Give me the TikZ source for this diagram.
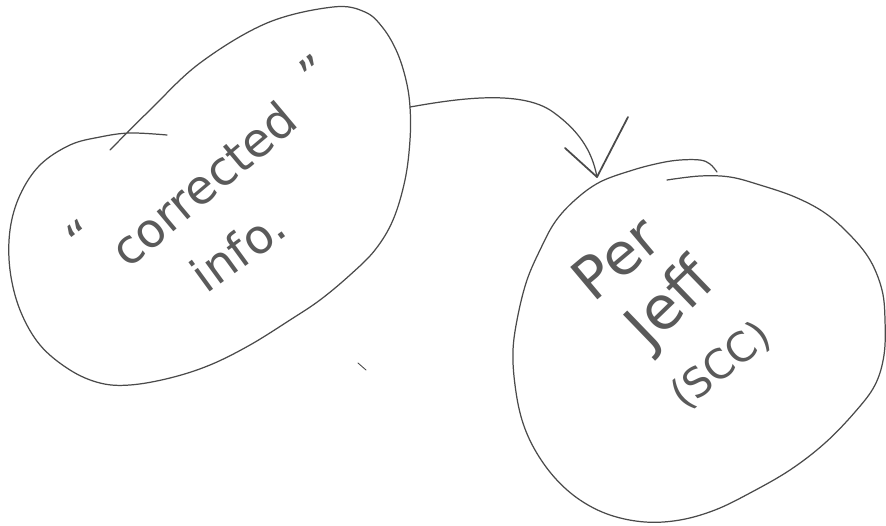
\documentclass[tikz,border=0pt]{standalone}
\usepackage{fontspec}
\setmainfont{DejaVu Sans}
\definecolor{pencilc}{HTML}{4A4A4A}
\definecolor{inkc}{HTML}{5A5A5A}
\begin{document}
\begin{tikzpicture}[x=0.02cm,y=-0.02cm,
  pencil/.style={draw=pencilc, line width=0.7pt, line cap=round, line join=round},
  hand/.style={text=inkc, inner sep=0pt, transform shape}]
\useasboundingbox[fill=white] (0,0) rectangle (886,525);

% left blob ("corrected info.")
\draw[pencil] plot[smooth, tension=0.6] coordinates {
  (110,150) (150,110) (200,63) (267,23) (333,7) (365,12) (383,28) (397,52) (406,80)
  (410,107) (410,140) (405,180) (393,220) (375,250) (350,275) (320,300) (290,320)
  (250,345) (210,365) (170,378) (130,385) (100,383) (70,370) (40,345) (20,310)
  (10,270) (10,230) (20,195) (40,165) (70,145) (100,137) (130,133) (167,135)};

% right blob ("Per Jeff (SCC)")
\draw[pencil] plot[smooth, tension=0.6] coordinates {
  (717,172) (710,164) (700,160) (680,160) (660,163) (633,170) (600,182) (575,200)
  (555,222) (540,250) (527,280) (518,315) (513,350) (515,385) (522,420) (535,450)
  (555,478) (580,500) (610,515) (645,522) (680,520) (715,510) (750,493) (790,470)
  (825,443) (855,412) (875,385) (884,355) (885,320) (882,290) (870,260) (850,235)
  (825,213) (795,197) (760,185) (730,177) (700,176) (667,180)};

% stray pencil mark
\draw[pencil, line width=0.5pt] (358,363) -- (366,370);

% connector
\coordinate (a1) at (410,107);
\coordinate (tip) at (597,177);
\coordinate (hl) at (565,148);
\coordinate (hr) at (628,117);
\draw[pencil] (a1) .. controls (450,100) and (520,88) .. (553,112)
  .. controls (578,130) and (592,150) .. (tip);
\draw[pencil, line width=1pt] (hl) -- (tip) -- (hr);

% texts
\node[hand, rotate=38, font=\fontsize{26}{28}\selectfont] (oq) at (82,237) {“};
\node[hand, rotate=40, font=\fontsize{27}{29}\selectfont] (corr) at (203,184) {corrected};
\node[hand, rotate=38, font=\fontsize{26}{28}\selectfont] (cq) at (315,72) {”};
\node[hand, rotate=36, font=\fontsize{27}{29}\selectfont] (info) at (238,250) {info.};
\node[hand, rotate=40, font=\fontsize{33}{35}\selectfont] (per) at (616,258) {Per};
\node[hand, rotate=44, font=\fontsize{34}{36}\selectfont] (jeff) at (672,305) {Jeff};
\node[hand, rotate=38, font=\fontsize{23}{25}\selectfont] (scc) at (721,366) {(SCC)};
\end{tikzpicture}
\end{document}
